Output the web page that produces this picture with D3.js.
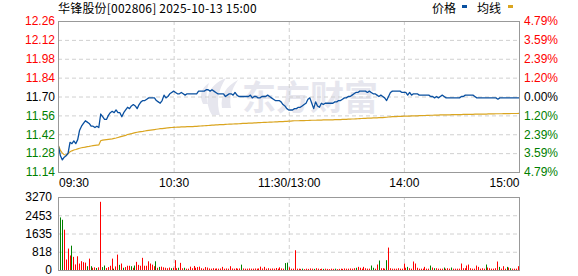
<!DOCTYPE html>
<html>
<head>
<meta charset="utf-8">
<script src="https://cdn.jsdelivr.net/npm/d3@7"></script>
<style>
body { margin: 0; background: #fff; }
svg text { font-family: "Liberation Sans", Arial, sans-serif; font-size: 12px; }
.cjk { font-family: "Noto Sans CJK SC", "Liberation Sans", sans-serif !important; }
.grid line { stroke: #d0d0d0; stroke-dasharray: 4,3; }
.grid path { display: none; }
</style>
</head>
<body>
<div id="chart"></div>
<script>
var title = "华锋股份[002806] 2025-10-13 15:00";
var preClose = 11.70;
var priceTicks = [11.14, 11.28, 11.42, 11.56, 11.70, 11.84, 11.98, 12.12, 12.26];
var volTicks = [0, 818, 1635, 2453, 3270];
var timeTicks = [0, 60, 120, 180, 240];
var timeLabels = ["09:30", "10:30", "11:30/13:00", "14:00", "15:00"];

// one value per minute, 09:30-11:30 then 13:01-15:00
var price = [
  11.33,11.26,11.23,11.25,11.26,11.28,11.36,11.35,11.37,11.35,
  11.38,11.45,11.48,11.50,11.52,11.51,11.50,11.48,11.48,11.47,
  11.48,11.47,11.57,11.55,11.53,11.53,11.56,11.58,11.59,11.58,
  11.60,11.58,11.58,11.55,11.58,11.60,11.62,11.61,11.63,11.64,
  11.63,11.61,11.64,11.66,11.67,11.67,11.68,11.69,11.69,11.69,
  11.69,11.67,11.66,11.65,11.67,11.71,11.69,11.70,11.72,11.73,
  11.74,11.73,11.72,11.72,11.73,11.72,11.71,11.72,11.72,11.72,
  11.72,11.72,11.72,11.74,11.74,11.74,11.74,11.75,11.75,11.74,
  11.75,11.74,11.73,11.72,11.72,11.72,11.72,11.70,11.71,11.72,
  11.72,11.71,11.73,11.71,11.70,11.70,11.70,11.70,11.70,11.70,
  11.71,11.69,11.70,11.70,11.69,11.69,11.70,11.70,11.70,11.71,
  11.70,11.69,11.68,11.67,11.67,11.67,11.66,11.64,11.63,11.61,
  11.60,
  11.60,11.60,11.61,11.61,11.62,11.62,11.63,11.64,11.65,11.68,
  11.69,11.65,11.61,11.66,11.63,11.62,11.65,11.64,11.65,11.65,
  11.65,11.65,11.65,11.66,11.66,11.67,11.67,11.68,11.69,11.69,
  11.70,11.70,11.71,11.72,11.73,11.73,11.74,11.74,11.74,11.74,
  11.73,11.74,11.73,11.72,11.72,11.71,11.70,11.71,11.70,11.69,
  11.67,11.70,11.73,11.74,11.74,11.74,11.74,11.74,11.73,11.73,
  11.73,11.71,11.73,11.71,11.72,11.72,11.72,11.71,11.71,11.71,
  11.71,11.71,11.71,11.70,11.70,11.69,11.70,11.69,11.70,11.71,
  11.70,11.69,11.69,11.69,11.69,11.69,11.69,11.69,11.69,11.70,
  11.70,11.71,11.71,11.71,11.71,11.71,11.70,11.69,11.69,11.69,
  11.69,11.69,11.69,11.69,11.69,11.69,11.69,11.69,11.68,11.69,
  11.69,11.69,11.69,11.69,11.69,11.69,11.69,11.69,11.69,11.69
];

var avgPrice = [
  11.335,11.300,11.280,11.268,11.266,11.275,11.290,11.297,11.303,11.307,
  11.312,11.316,11.320,11.322,11.325,11.328,11.330,11.333,11.335,11.337,
  11.339,11.341,11.372,11.376,11.378,11.380,11.382,11.384,11.386,11.389,
  11.392,11.396,11.400,11.404,11.408,11.412,11.418,11.421,11.424,11.428,
  11.432,11.435,11.437,11.439,11.441,11.444,11.447,11.449,11.451,11.453,
  11.455,11.457,11.459,11.461,11.462,11.464,11.466,11.468,11.469,11.470,
  11.471,11.472,11.473,11.473,11.474,11.475,11.475,11.476,11.476,11.477,
  11.477,11.478,11.479,11.480,11.481,11.482,11.483,11.484,11.485,11.486,
  11.487,11.488,11.489,11.490,11.491,11.492,11.492,11.493,11.494,11.495,
  11.495,11.496,11.497,11.497,11.498,11.499,11.500,11.501,11.501,11.502,
  11.503,11.503,11.504,11.505,11.506,11.506,11.507,11.508,11.508,11.509,
  11.510,11.510,11.511,11.512,11.512,11.513,11.514,11.514,11.515,11.516,
  11.517,
  11.518,11.519,11.520,11.520,11.520,11.521,11.521,11.521,11.522,11.522,
  11.523,11.524,11.524,11.524,11.525,11.525,11.525,11.526,11.526,11.526,
  11.527,11.527,11.527,11.528,11.528,11.529,11.529,11.530,11.531,11.531,
  11.532,11.532,11.533,11.533,11.534,11.535,11.536,11.537,11.538,11.538,
  11.539,11.540,11.540,11.541,11.541,11.542,11.543,11.544,11.544,11.545,
  11.546,11.548,11.549,11.550,11.551,11.551,11.552,11.553,11.553,11.554,
  11.554,11.555,11.555,11.556,11.556,11.557,11.557,11.558,11.558,11.559,
  11.559,11.560,11.560,11.561,11.561,11.562,11.562,11.562,11.563,11.563,
  11.563,11.564,11.564,11.564,11.565,11.565,11.565,11.566,11.566,11.566,
  11.567,11.567,11.567,11.568,11.568,11.568,11.569,11.569,11.569,11.570,
  11.570,11.570,11.570,11.571,11.571,11.571,11.571,11.572,11.572,11.572,
  11.572,11.573,11.573,11.573,11.573,11.574,11.574,11.574,11.574,11.575
];

var volume = [
  2355,2250,1806,470,960,650,1090,590,250,615,
  290,395,350,330,170,510,170,100,120,90,
  120,3055,130,200,90,130,190,510,60,160,
  690,230,290,100,130,190,190,170,100,200,
  365,230,190,545,190,190,390,290,240,170,
  390,100,140,150,120,100,80,110,80,100,
  440,80,100,320,80,100,60,60,150,80,
  180,100,130,150,80,60,130,110,70,60,
  80,60,70,60,70,140,60,70,60,170,
  70,60,80,60,70,240,70,60,60,70,
  60,60,70,60,70,150,70,140,60,80,
  60,70,60,90,60,120,70,60,310,330,
  120,
  60,60,885,60,60,50,60,40,60,50,
  70,60,50,80,60,40,60,50,60,50,
  40,60,50,60,40,50,60,50,70,60,
  60,70,60,80,100,140,100,60,140,80,
  60,60,200,100,60,245,425,80,80,60,
  440,1005,80,60,60,60,80,60,60,290,
  100,140,80,60,380,290,100,60,60,60,
  140,60,60,200,110,80,80,60,60,60,
  110,60,80,60,110,60,60,60,60,290,
  80,80,200,245,80,60,60,200,140,60,
  80,60,245,110,80,60,60,80,380,140,
  60,170,60,140,110,80,60,60,60,170
];

// r = up (red), g = down (green)
var volSide = [
  "ggrrrrgrrr","rrrrgrgrrg","rrggrrrrgr","rgrgrrrgrg","rrrrrrrrrr",
  "grgrrrrrgr","rrgrrgrrrr","rrrrrrrrrr","rrrrrrrrrr","rrrrrgrrrr",
  "rrrrrrrrrr","rrrrrrrrgg","r",
  "rrrrrrgrrr","rrgrrrrgrr","rrrgrrrrrr","rrrrgrrrrr","rrggrrgrrr",
  "grrrrrrrrr","rgrrrrrrrr","rrrgrgrrrr","grrrgrrrrr","rrrrrrrrrr",
  "rrgrrrrrrg","rrrgrgrrrr"
].join("").split("");

var W = 578, H = 276;
var left = 58, right = 519;
var pTop = 21, pBot = 172, vTop = 197, vBot = 270;

var svg = d3.select("#chart").append("svg")
    .attr("width", W)
    .attr("height", H);

var x = d3.scaleLinear().domain([0, 240]).range([left + 0.5, right]);
var xb = d3.scaleLinear().domain([0, 240]).range([60, 518]);
var y = d3.scaleLinear().domain([11.14, 12.26]).range([pBot, pTop]);
var yv = d3.scaleLinear().domain([0, 3270]).range([vBot, vTop]);

function colorOf(v) {
    if (Math.abs(v - preClose) < 1e-6) return "#000";
    return v > preClose ? "#ff0000" : "#008000";
}

// watermark
var wm = svg.append("g").attr("fill", "#e6e6ee");
wm.append("path")
    .attr("d", "M212,115 C203,100 208,85 226,78 C218,90 216,102 220,115 Z");
wm.append("path")
    .attr("d", "M222,108 C220,96 226,86 238,80 C231,90 229,99 231,108 Z");
wm.append("path")
    .attr("d", "M203,104 C199,96 201,88 209,83 C206,91 206,98 208,104 Z");
wm.append("text")
    .attr("class", "cjk")
    .attr("x", 242).attr("y", 110)
    .style("font-size", "34px")
    .style("font-weight", "bold")
    .text("东方财富");

// grid, price panel
svg.append("g").attr("class", "grid")
    .attr("transform", "translate(" + left + ",0)")
    .call(d3.axisLeft(y).tickValues(priceTicks.slice(1, -1)).tickSize(-(right - left)).tickFormat(""));
svg.append("g").attr("class", "grid")
    .attr("transform", "translate(0," + pBot + ")")
    .call(d3.axisBottom(x).tickValues([60, 120, 180]).tickSize(-(pBot - pTop)).tickFormat(""));

// grid, volume panel
svg.append("g").attr("class", "grid")
    .attr("transform", "translate(" + left + ",0)")
    .call(d3.axisLeft(yv).tickValues(volTicks.slice(1, -1)).tickSize(-(right - left)).tickFormat(""));
svg.append("g").attr("class", "grid")
    .attr("transform", "translate(0," + vBot + ")")
    .call(d3.axisBottom(x).tickValues([60, 120, 180]).tickSize(-(vBot - vTop)).tickFormat(""));

// volume bars
svg.append("g").selectAll("rect")
    .data(volume)
    .enter().append("rect")
    .attr("x", function(d, i) { return Math.round(xb(i)); })
    .attr("y", function(d) { return yv(d); })
    .attr("width", 1)
    .attr("height", function(d) { return vBot - yv(d); })
    .attr("fill", function(d, i) { return volSide[i] == "g" ? "#008000" : "#ff0000"; });

// lines
var line = d3.line()
    .x(function(d, i) { return x(i); })
    .y(function(d) { return y(d); });

svg.append("path")
    .datum(avgPrice)
    .attr("fill", "none")
    .attr("stroke", "#daa520")
    .attr("stroke-width", 1.2)
    .attr("d", line);

svg.append("path")
    .datum(price)
    .attr("fill", "none")
    .attr("stroke", "#0a50a0")
    .attr("stroke-width", 1.3)
    .attr("stroke-linejoin", "round")
    .attr("d", line);

// frames
svg.append("rect")
    .attr("x", left + 0.5).attr("y", pTop + 0.5)
    .attr("width", right - left).attr("height", pBot - pTop)
    .attr("fill", "none").attr("stroke", "#999");
svg.append("rect")
    .attr("x", left + 0.5).attr("y", vTop + 0.5)
    .attr("width", right - left).attr("height", vBot - vTop)
    .attr("fill", "none").attr("stroke", "#999");

// left price labels
var ay = svg.append("g")
    .attr("transform", "translate(" + left + ",0)")
    .call(d3.axisLeft(y).tickValues(priceTicks).tickSize(0).tickPadding(3).tickFormat(d3.format(".2f")));
ay.select(".domain").remove();
ay.selectAll("text").attr("fill", function(d) { return colorOf(d); });

// right percent labels
var ar = svg.append("g")
    .attr("transform", "translate(" + right + ",0)")
    .call(d3.axisRight(y).tickValues(priceTicks).tickSize(0).tickPadding(5)
        .tickFormat(function(d) { return Math.abs((d - preClose) / preClose * 100).toFixed(2) + "%"; }));
ar.select(".domain").remove();
ar.selectAll("text").attr("fill", function(d) { return colorOf(d); });

// time labels
var ax = svg.append("g")
    .attr("transform", "translate(0," + pBot + ")")
    .call(d3.axisBottom(x).tickValues(timeTicks).tickSize(0).tickPadding(6)
        .tickFormat(function(d, i) { return timeLabels[i]; }));
ax.select(".domain").remove();
ax.selectAll("text")
    .attr("fill", "#000")
    .attr("text-anchor", function(d, i) { return i == 0 ? "start" : (i == timeTicks.length - 1 ? "end" : "middle"); });

// volume labels
var av = svg.append("g")
    .attr("transform", "translate(" + left + ",0)")
    .call(d3.axisLeft(yv).tickValues(volTicks).tickSize(0).tickPadding(6).tickFormat(d3.format("d")));
av.select(".domain").remove();
av.selectAll("text").attr("fill", "#000");

// title and legend
svg.append("text").attr("class", "cjk")
    .attr("x", left).attr("y", 13)
    .attr("fill", "#000")
    .style("letter-spacing", "0.2px")
    .text(title);

var legend = [
    { name: "价格", color: "#0a50a0", tx: 432, mx: 462 },
    { name: "均线", color: "#daa520", tx: 477, mx: 508 }
];
var lg = svg.append("g").selectAll("g").data(legend).enter().append("g");
lg.append("text").attr("class", "cjk")
    .attr("x", function(d) { return d.tx; })
    .attr("y", 13)
    .attr("fill", "#000")
    .text(function(d) { return d.name; });
lg.append("rect")
    .attr("x", function(d) { return d.mx; })
    .attr("y", 5)
    .attr("width", 5).attr("height", 3)
    .attr("fill", function(d) { return d.color; });
</script>
</body>
</html>
